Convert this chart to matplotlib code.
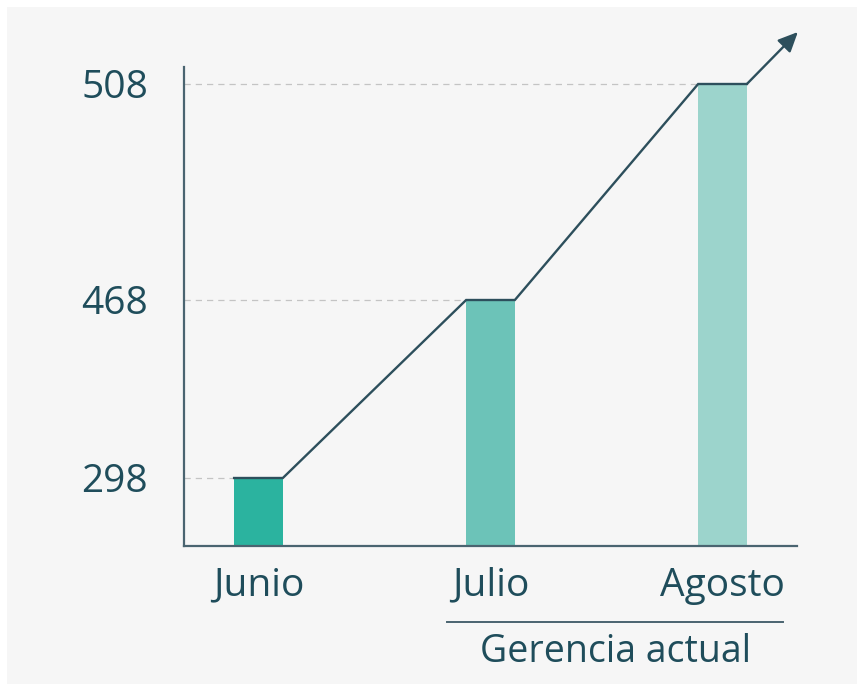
import matplotlib.pyplot as plt
import numpy as np
from matplotlib.patches import Rectangle
from matplotlib.transforms import blended_transform_factory

# data
months = ["Junio", "Julio", "Agosto"]
values = [298, 468, 508]
bar_colors = ["#2bb39f", "#6cc3b8", "#9cd4cc"]
group_label = "Gerencia actual"

# the original is drawn on a stretched (non linear) value axis
knots_val = [0, 298, 468, 508, 560]
knots_vis = [0, 68, 246, 462, 742.8]

def forward(v):
    return np.interp(v, knots_val, knots_vis)

def inverse(h):
    return np.interp(h, knots_vis, knots_val)

dark = "#2d4f5c"
text_col = "#1f4d5b"
plt.rcParams['font.family'] = ['Open Sans', 'DejaVu Sans']

fig = plt.figure(figsize=(8.61, 6.88), dpi=100)
fig.patch.set_facecolor("white")
bg = Rectangle((7 / 861, 4 / 688), 850 / 861, 677 / 688,
               transform=fig.transFigure, facecolor="#f6f6f6",
               edgecolor="none", zorder=-10)
fig.patches.append(bg)

ax = fig.add_axes([184 / 861, 142 / 688, 613 / 861, 479 / 688])
ax.set_facecolor("none")
ax.set_yscale("function", functions=(forward, inverse))

x = np.arange(len(months))
w = 0.21
ax.bar(x, values, width=w, color=bar_colors, zorder=2)

# dashed guides from axis to each bar
xmin = -0.321
for i, v in enumerate(values):
    ax.hlines(v, xmin, i - w / 2, colors="#c4c4c4", linestyles=(0, (5, 4)),
              linewidth=0.9, zorder=1)

# trend line along the tops of the bars
lx, ly = [], []
for i, v in enumerate(values):
    lx += [i - w / 2, i + w / 2]
    ly += [v, v]
ax.plot(lx, ly, color=dark, linewidth=1.7, zorder=3, solid_joinstyle="miter")
ax.annotate("", xy=(lx[-1], ly[-1]), xytext=(51, 52), textcoords="offset pixels",
            arrowprops=dict(arrowstyle="<|-,head_length=1.2,head_width=0.55",
                            color=dark, lw=1.7, shrinkA=0, shrinkB=0),
            annotation_clip=False)

ax.set_xlim(xmin, 2.321)
ax.set_ylim(0, inverse(479))

ax.set_yticks(values)
ax.set_yticklabels([str(v) for v in values], fontsize=28, color=text_col)
ax.set_xticks(x)
ax.set_xticklabels(months, fontsize=28, color=text_col)
ax.tick_params(axis="y", length=0, pad=26)
ax.tick_params(axis="x", length=0, pad=15)

for s in ["top", "right"]:
    ax.spines[s].set_visible(False)
for s in ["left", "bottom"]:
    ax.spines[s].set_color("#4a6470")
    ax.spines[s].set_linewidth(1.6)

# group bracket under Julio / Agosto
tr = blended_transform_factory(ax.transData, ax.transAxes)
ax.plot([0.8125, 2.261], [-0.1587, -0.1587], color="#4a6470", linewidth=1.4,
        transform=tr, clip_on=False)
ax.text(1.537, -0.2422, group_label, transform=tr, ha="center", va="baseline",
        fontsize=27, color=text_col)

fig.savefig("out.png", dpi=100, facecolor=fig.get_facecolor())
